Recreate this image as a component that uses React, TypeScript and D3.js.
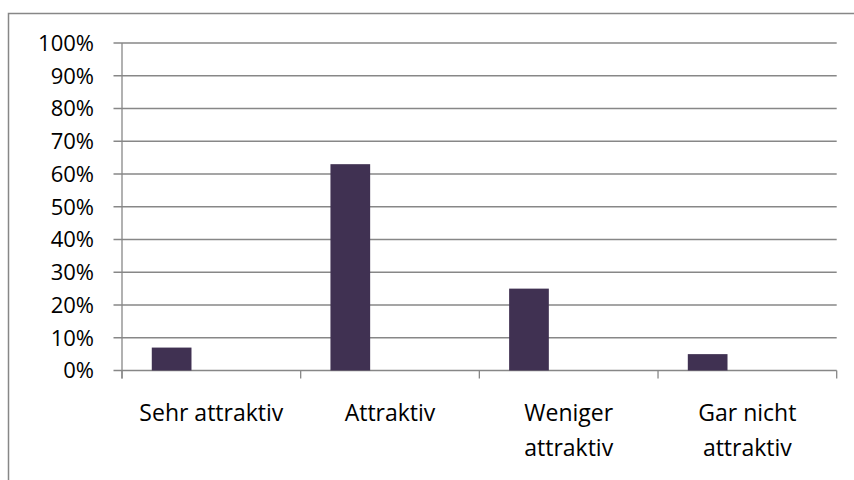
import React from "react";
import * as d3 from "d3";

const categories: string[] = ["Sehr attraktiv", "Attraktiv", "Weniger attraktiv", "Gar nicht attraktiv"];
const values: number[] = [0.07, 0.63, 0.25, 0.05];
const seriesSlots: string[] = ["s1", "s2", "s3"];
const yTicks: number[] = [0, 0.1, 0.2, 0.3, 0.4, 0.5, 0.6, 0.7, 0.8, 0.9, 1.0];

const W = 854;
const H = 480;
const FONT = "'Open Sans', Lato, sans-serif";
const FSY = 22;
const FSX = 23;
const GRID = "#878787";
const BAR = "#403152";

function wrap(text: string, maxW: number): string[] {
  const c = document.createElement("canvas");
  const ctx = c.getContext("2d");
  if (!ctx) return [text];
  ctx.font = `${FSX}px 'Open Sans'`;
  const words = text.split(" ");
  const lines: string[] = [];
  let cur = "";
  for (const w of words) {
    const t = cur ? cur + " " + w : w;
    if (ctx.measureText(t).width > maxW && cur) {
      lines.push(cur);
      cur = w;
    } else cur = t;
  }
  if (cur) lines.push(cur);
  return lines;
}

export default function App() {
  const x0 = 122, x1 = 836.7;
  const yTop = 43, yBot = 370.5;
  const x = d3.scaleBand<string>().domain(categories).range([x0, x1]).paddingInner(0).paddingOuter(0);
  const y = d3.scaleLinear().domain([0, 1]).range([yBot, yTop]);
  const fmt = d3.format(".0%");
  const bw = x.bandwidth();

  return (
    <svg width={W} height={H} style={{ position: "absolute", left: 0, top: 0 }} fontFamily={FONT}>
      <rect x={0} y={0} width={W} height={H} fill="#fff" />
      <rect x={8.5} y={13.5} width={W + 50} height={H + 50} fill="none" stroke={GRID} strokeWidth={1.5} />
      {yTicks.map((t) => (
        <g key={t}>
          <line x1={x0 - 8.5} x2={x1} y1={y(t)} y2={y(t)} stroke={GRID} strokeWidth={1.3} />
          <text x={94} y={y(t) + 7.8} textAnchor="end" fontSize={FSY} fill="#000">
            {fmt(t)}
          </text>
        </g>
      ))}
      <line x1={x0} x2={x0} y1={yTop} y2={yBot + 8} stroke={GRID} strokeWidth={1.3} />
      {categories.map((c, i) => {
        const s = d3.scaleBand<string>().domain(seriesSlots).range([x(c)!, x(c)! + bw]).paddingInner(0).paddingOuter(0.75);
        return (
          <rect key={c} x={s("s1")} y={y(values[i])} width={s.bandwidth()} height={yBot - y(values[i])} fill={BAR} />
        );
      })}
      {[...categories.map((c) => x(c)!), x1].map((v, i) => (
        <line key={i} x1={v} x2={v} y1={yBot} y2={yBot + 8} stroke={GRID} strokeWidth={1.3} />
      ))}
      {categories.map((c) => {
        const lines = wrap(c, 156);
        const cx = x(c)! + bw / 2;
        return (
          <text key={c} x={cx} y={421} textAnchor="middle" fontSize={FSX} fill="#000">
            {lines.map((l, j) => (
              <tspan key={j} x={cx} y={421 + j * 34.5}>
                {l}
              </tspan>
            ))}
          </text>
        );
      })}
    </svg>
  );
}
